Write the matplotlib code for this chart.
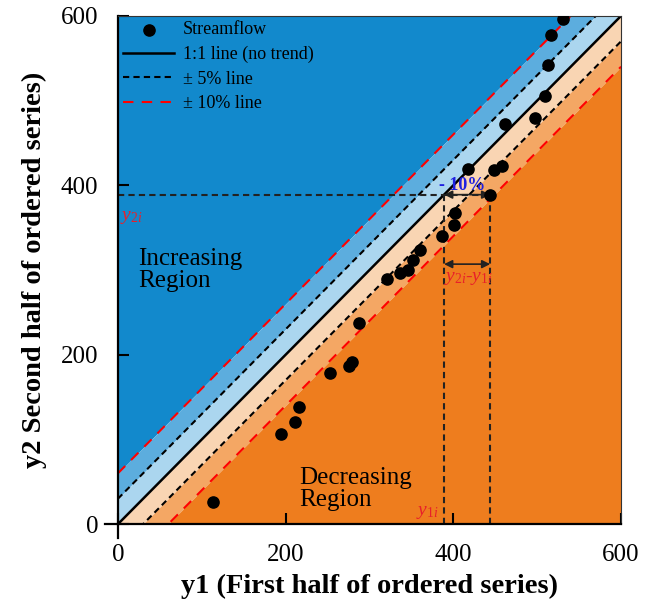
import numpy as np
import matplotlib

matplotlib.use("Agg")
import matplotlib.pyplot as plt
from matplotlib.lines import Line2D

plt.rcParams.update({
    "font.family": "serif",
    "font.serif": ["Liberation Serif", "DejaVu Serif"],
    "mathtext.fontset": "custom",
    "mathtext.rm": "Liberation Serif",
    "mathtext.it": "Liberation Serif:italic",
    "font.size": 14,
})

# streamflow, first vs second half of ordered series
y1 = [114, 195, 211, 216, 253, 276, 279, 287, 321, 336, 346, 352, 360,
      387, 401, 402, 444, 418, 448, 458, 462, 497, 509, 513, 517, 531]
y2 = [26, 106, 121, 138, 179, 187, 191, 237, 289, 296, 300, 312, 324,
      340, 353, 367, 389, 419, 418, 423, 472, 479, 505, 542, 578, 596]

LIM = 600
band5 = 0.05 * LIM
band10 = 0.10 * LIM
y1i, y2i = 444, 389

C_UP = "#1289cc"
C_UP10 = "#5cadde"
C_UP5 = "#abd6ef"
C_DN5 = "#f9d5b3"
C_DN10 = "#f4a764"
C_DN = "#ee7d1e"

fig = plt.figure(figsize=(6.51, 6.11), dpi=100)
ax = fig.add_axes([0.181, 0.142, 0.773, 0.832])

x = np.array([0, LIM])
ax.fill_between(x, x + band10, LIM, color=C_UP, lw=0)
ax.fill_between(x, x + band5, x + band10, color=C_UP10, lw=0)
ax.fill_between(x, x, x + band5, color=C_UP5, lw=0)
ax.fill_between(x, x - band5, x, color=C_DN5, lw=0)
ax.fill_between(x, x - band10, x - band5, color=C_DN10, lw=0)
ax.fill_between(x, 0, x - band10, color=C_DN, lw=0)

ax.plot(x, x, color="black", lw=1.8, label="1:1 line (no trend)")
ax.plot(x, x + band5, color="black", lw=1.5, ls=(0, (3, 2)), label="± 5% line")
ax.plot(x, x - band5, color="black", lw=1.5, ls=(0, (3, 2)))
ax.plot(x, x + band10, color="red", lw=1.5, ls=(0, (5, 4)), label="± 10% line")
ax.plot(x, x - band10, color="red", lw=1.5, ls=(0, (5, 4)))

ax.scatter(y1, y2, s=65, color="black", zorder=5, label="Streamflow")

# guide lines for one point
ax.plot([0, y1i], [y2i, y2i], color="#222222", lw=1.5, ls=(0, (3, 2)))
ax.plot([y2i, y2i], [0, y2i], color="#222222", lw=1.5, ls=(0, (3, 2)))
ax.plot([y1i, y1i], [0, y2i], color="#222222", lw=1.5, ls=(0, (3, 2)))
for yy in (y2i, 307):
    ax.annotate("", xy=(y2i, yy), xytext=(y1i, yy),
                arrowprops=dict(arrowstyle="<|-|>", color="#222222", lw=1.2,
                                mutation_scale=12, shrinkA=0, shrinkB=0))

ax.text(410, 400, "- 10%", color="#1f1fe0", fontsize=13, fontweight="bold",
        ha="center", va="center")
ax.text(418, 290, r"$y_{2i}$-$y_{1i}$", color="#e8202a", fontsize=14,
        ha="center", va="center")
ax.text(2, 362, r"$y_{2i}$", color="#e8202a", fontsize=14, ha="left", va="center")
ax.text(382, 14, r"$y_{1i}$", color="#e8202a", fontsize=14, ha="right", va="center")

ax.text(24, 300, "Increasing\nRegion", fontsize=18, ha="left", va="center",
        linespacing=1.0)
ax.text(216, 42, "Decreasing\nRegion", fontsize=18, ha="left", va="center",
        linespacing=1.0)

ax.set_xlim(0, LIM)
ax.set_ylim(0, LIM)
ax.set_xticks([0, 200, 400, 600])
ax.set_yticks([0, 200, 400, 600])
ax.tick_params(direction="in", length=8, width=1.5, labelsize=18, pad=14)
for s in ("left", "bottom"):
    ax.spines[s].set_linewidth(1.6)
for s in ("top", "right"):
    ax.spines[s].set_linewidth(0.8)
    ax.spines[s].set_color("#333333")

# axis lines run a little past the origin
for xs, ys in (([-0.026, 0], [0, 0]), ([0, 0], [-0.028, 0])):
    ax.add_line(Line2D(xs, ys, transform=ax.transAxes, color="black",
                       lw=1.6, clip_on=False))

ax.set_xlabel("y1 (First half of ordered series)", fontsize=20.5,
              fontweight="bold", labelpad=6)
ax.set_ylabel("y2 Second half of ordered series)", fontsize=20.5,
              fontweight="bold", labelpad=10)

h, l = ax.get_legend_handles_labels()
order = [3, 0, 1, 2]
ax.legend([h[i] for i in order], [l[i] for i in order], loc="upper left",
          frameon=False, fontsize=13, handlelength=2.8, handletextpad=0.5,
          borderaxespad=0.1, borderpad=0.2, labelspacing=0.42)

fig.savefig("out.png", dpi=100)
